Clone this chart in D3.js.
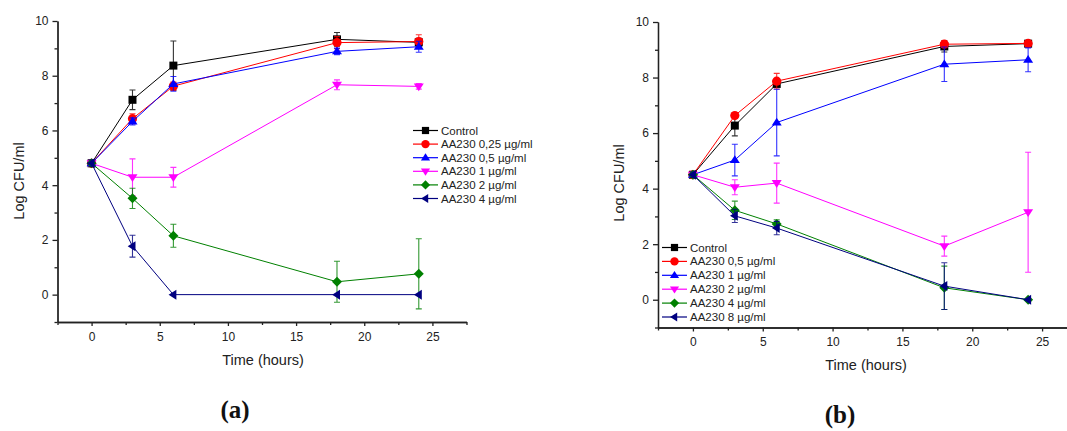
<!DOCTYPE html>
<html lang="en">
<head>
<meta charset="UTF-8">
<title>AA230 time-kill curves</title>
<script src="https://cdnjs.cloudflare.com/ajax/libs/d3/7.8.5/d3.min.js"></script>
<style>
  body { margin: 0; padding: 0; background: #fff; }
  svg { display: block; font-family: "Liberation Sans", Arial, sans-serif; }
  .axis path, .axis line { stroke: #222; stroke-width: 1.3px; }
  .axis text { font-size: 12px; fill: #222; font-family: "Liberation Sans", Arial, sans-serif; }
  .title { font-size: 14.5px; fill: #222; }
  .legend text { font-size: 11.5px; fill: #222; }
  .panel-tag { font-family: "Liberation Serif", "DejaVu Serif", serif; font-weight: bold; font-size: 25px; fill: #111; }
</style>
</head>
<body>
<div id="chart"></div>
<script>
// sampling times (hours), same for both panels
const hours = [0, 3, 6, 18, 24];

// panel (a)
const labelsA = ["Control", "AA230 0,25 µg/ml", "AA230 0,5 µg/ml", "AA230 1 µg/ml", "AA230 2 µg/ml", "AA230 4 µg/ml"];
const valuesA = [
  [4.8, 7.12, 8.37, 9.33, 9.22],
  [4.8, 6.43, 7.62, 9.21, 9.25],
  [4.8, 6.33, 7.70, 8.89, 9.06],
  [4.8, 4.29, 4.29, 7.67, 7.61],
  [4.8, 3.52, 2.15, 0.47, 0.76],
  [4.8, 1.77, 0.00, 0.00, 0.00]
];
const errorsA = [
  [0.12, 0.36, 0.90, 0.25, 0.15],
  [0.12, 0.18, 0.15, 0.22, 0.25],
  [0.12, 0.13, 0.27, 0.12, 0.20],
  [0.12, 0.67, 0.36, 0.18, 0.10],
  [0.12, 0.37, 0.42, 0.75, 1.28],
  [0.12, 0.40, 0.00, 0.00, 0.00]
];

// panel (b)
const labelsB = ["Control", "AA230 0,5 µg/ml", "AA230 1 µg/ml", "AA230 2 µg/ml", "AA230 4 µg/ml", "AA230 8 µg/ml"];
const valuesB = [
  [4.5, 6.27, 7.77, 9.12, 9.22],
  [4.5, 6.63, 7.87, 9.20, 9.23],
  [4.5, 5.03, 6.38, 8.48, 8.64],
  [4.5, 4.05, 4.20, 1.93, 3.15],
  [4.5, 3.22, 2.73, 0.43, 0.00],
  [4.5, 3.02, 2.58, 0.49, 0.00]
];
const errorsB = [
  [0.10, 0.37, 0.10, 0.20, 0.08],
  [0.10, 0.10, 0.28, 0.12, 0.10],
  [0.10, 0.57, 1.20, 0.62, 0.43],
  [0.10, 0.27, 0.72, 0.36, 2.16],
  [0.10, 0.33, 0.15, 0.78, 0.02],
  [0.10, 0.24, 0.24, 0.84, 0.02]
];

const yMajor = [0, 2, 4, 6, 8, 10];
const yMinor = [-1, 1, 3, 5, 7, 9];
const xMajor = [0, 5, 10, 15, 20, 25];
const xMinor = [-2.5, 2.5, 7.5, 12.5, 17.5, 22.5, 27.5];

// colours and marker shapes, one per series
const colors = ["#000000", "#ff0000", "#0000ff", "#ff00ff", "#008000", "#000080"];
const shapes = ["square", "circle", "up", "down", "diamond", "left"];

const svg = d3.select("#chart").append("svg")
  .attr("width", 1067)
  .attr("height", 431);

function marker(shape, s) {
  // path centred on 0,0
  switch (shape) {
    case "square": return `M${-s},${-s}H${s}V${s}H${-s}Z`;
    case "circle": return d3.symbol(d3.symbolCircle, Math.PI * (s + 0.6) * (s + 0.6))();
    case "up": return `M0,${-s - 0.8}L${s + 1},${s * 0.75}L${-s - 1},${s * 0.75}Z`;
    case "down": return `M0,${s + 0.8}L${s + 1},${-s * 0.75}L${-s - 1},${-s * 0.75}Z`;
    case "diamond": return `M0,${-s - 1}L${s + 1},0L0,${s + 1}L${-s - 1},0Z`;
    case "left": return `M${-s - 0.8},0L${s * 0.75},${-s - 1}L${s * 0.75},${s + 1}Z`;
  }
}

function drawPanel(p) {
  const x = d3.scaleLinear().domain([-2.5, 27.5]).range(p.xRange);
  const y = d3.scaleLinear().domain([-1, 10]).range(p.yRange);
  const g = svg.append("g");

  // axes: major + minor ticks, left and bottom only
  g.append("g").attr("class", "axis")
    .attr("transform", `translate(${p.xRange[0]},0)`)
    .call(d3.axisLeft(y).tickValues(yMinor).tickSize(3).tickSizeOuter(0).tickFormat(""));
  g.append("g").attr("class", "axis")
    .attr("transform", `translate(${p.xRange[0]},0)`)
    .call(d3.axisLeft(y).tickValues(yMajor).tickSize(5).tickSizeOuter(0).tickPadding(4));
  g.append("g").attr("class", "axis")
    .attr("transform", `translate(0,${p.yRange[0]})`)
    .call(d3.axisBottom(x).tickValues(xMinor).tickSize(3).tickSizeOuter(0).tickFormat(""));
  g.append("g").attr("class", "axis")
    .attr("transform", `translate(0,${p.yRange[0]})`)
    .call(d3.axisBottom(x).tickValues(xMajor).tickSize(4).tickSizeOuter(0).tickPadding(6));

  g.append("text").attr("class", "title")
    .attr("x", p.xLabel[0]).attr("y", p.xLabel[1])
    .attr("text-anchor", "middle")
    .text("Time (hours)");
  g.append("text").attr("class", "title")
    .attr("transform", `translate(${p.yLabel[0]},${p.yLabel[1]}) rotate(-90)`)
    .attr("text-anchor", "middle")
    .text("Log CFU/ml");
  g.append("text").attr("class", "panel-tag")
    .attr("x", p.tag[0]).attr("y", p.tag[1])
    .attr("text-anchor", "middle")
    .text(p.tagText);

  const line = d3.line().x((d, i) => x(hours[i])).y(d => y(d));

  p.values.forEach((vals, k) => {
    const c = colors[k];
    const s = g.append("g");
    s.append("path")
      .attr("d", line(vals))
      .attr("fill", "none")
      .attr("stroke", c)
      .attr("stroke-width", 1);

    // error bars
    vals.forEach((v, i) => {
      const e = p.errors[k][i];
      if (e <= 0.03) return;
      const cx = x(hours[i]);
      s.append("path")
        .attr("d", `M${cx},${y(v + e)}V${y(v - e)}M${cx - 3},${y(v + e)}H${cx + 3}M${cx - 3},${y(v - e)}H${cx + 3}`)
        .attr("fill", "none")
        .attr("stroke", c)
        .attr("stroke-opacity", 0.8)
        .attr("stroke-width", 1.1);
    });

    s.selectAll(".pt").data(vals).enter().append("path")
      .attr("class", "pt")
      .attr("transform", (d, i) => `translate(${x(hours[i])},${y(d)})`)
      .attr("d", marker(shapes[k], 4))
      .attr("fill", c);
  });

  // legend
  const lg = g.append("g").attr("class", "legend");
  p.labels.forEach((name, k) => {
    const ly = p.legend[1] + k * p.legend[2];
    const lx = p.legend[0];
    lg.append("line")
      .attr("x1", lx).attr("x2", lx + 25)
      .attr("y1", ly).attr("y2", ly)
      .attr("stroke", colors[k]).attr("stroke-width", 1.2);
    lg.append("path")
      .attr("transform", `translate(${lx + 12.5},${ly})`)
      .attr("d", marker(shapes[k], 3.6))
      .attr("fill", colors[k]);
    lg.append("text")
      .attr("x", lx + 28).attr("y", ly + 4)
      .text(name);
  });
}

drawPanel({
  values: valuesA, errors: errorsA, labels: labelsA,
  xRange: [57.5, 466.5], yRange: [322, 21],
  xLabel: [263, 365], yLabel: [24, 181],
  legend: [413, 130.5, 13.6],
  tag: [235, 418], tagText: "(a)"
});

drawPanel({
  values: valuesB, errors: errorsB, labels: labelsB,
  xRange: [658, 1077], yRange: [327.5, 22],
  xLabel: [866, 370], yLabel: [624, 183],
  legend: [662, 247.5, 13.9],
  tag: [840, 423], tagText: "(b)"
});
</script>
</body>
</html>
